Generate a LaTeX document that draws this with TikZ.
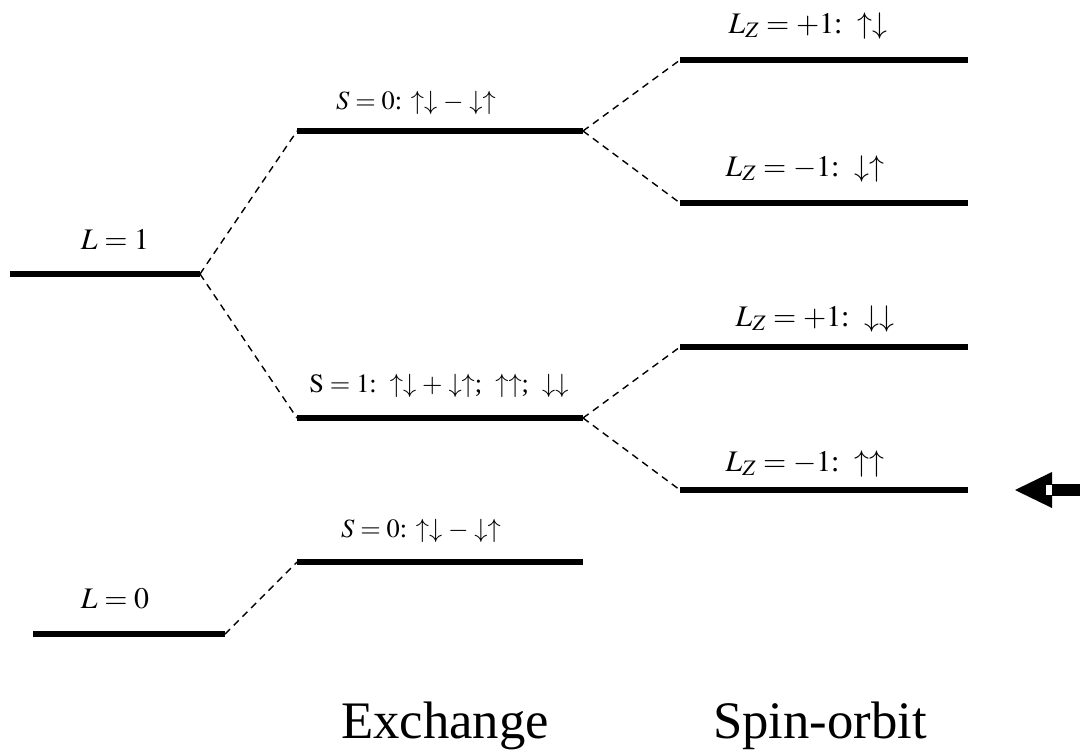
\documentclass[tikz,border=0pt]{standalone}
\usepackage{mathptmx}
\usepackage[no-math]{fontspec}
\setmainfont{Liberation Serif}
\begin{document}
\begin{tikzpicture}[x=0.02cm,y=-0.02cm,
  level/.style={line width=3.4pt},
  conn/.style={line width=0.8pt,dash pattern=on 4pt off 3pt},
  lab/.style={font=\fontsize{17}{19}\selectfont,inner sep=0pt},
  slab/.style={font=\fontsize{15}{17}\selectfont,inner sep=0pt},
  big/.style={font=\fontsize{30}{34}\selectfont,inner sep=0pt}]
\useasboundingbox (0,0) rectangle (1080,751);
% coordinates of levels
\coordinate (L1a) at (10,274);   \coordinate (L1b) at (200,274);
\coordinate (L0a) at (33,634);   \coordinate (L0b) at (225,634);
\coordinate (S0ua) at (297,131); \coordinate (S0ub) at (583,131);
\coordinate (S1a) at (297,418);  \coordinate (S1b) at (583,418);
\coordinate (S0la) at (297,562); \coordinate (S0lb) at (583,562);
\coordinate (Z1a) at (680,60);   \coordinate (Z1b) at (968,60);
\coordinate (Z2a) at (680,203);  \coordinate (Z2b) at (968,203);
\coordinate (Z3a) at (680,347);  \coordinate (Z3b) at (968,347);
\coordinate (Z4a) at (680,490);  \coordinate (Z4b) at (968,490);
% levels
\foreach \n in {L1,L0,S0u,S1,S0l,Z1,Z2,Z3,Z4} \draw[level] (\n a) -- (\n b);
% connectors
\draw[conn] (L1b) -- (S0ua);
\draw[conn] (L1b) -- (S1a);
\draw[conn] (L0b) -- (S0la);
\draw[conn] (S0ub) -- (Z1a);
\draw[conn] (S0ub) -- (Z2a);
\draw[conn] (S1b) -- (Z3a);
\draw[conn] (S1b) -- (Z4a);
% labels
\node[lab] (tL1) at (115,240) {$L=1$};
\node[lab] (tL0) at (115,599) {$L=0$};
\node[slab] (tS0u) at (416,103) {$S=0$: $\uparrow\downarrow-\downarrow\uparrow$};
\node[slab] (tS1) at (439,386) {$\mathrm{S}=1$:\ \ $\uparrow\downarrow+\downarrow\uparrow$;\ \ $\uparrow\uparrow$;\ \ $\downarrow\downarrow$};
\node[slab] (tS0l) at (421,531) {$S=0$: $\uparrow\downarrow-\downarrow\uparrow$};
\node[lab] (tZ1) at (808,26) {$L_Z=+1$:\ \ $\uparrow\downarrow$};
\node[lab] (tZ2) at (805,169) {$L_Z=-1$:\ \ $\downarrow\uparrow$};
\node[lab] (tZ3) at (815,319) {$L_Z=+1$:\ \ $\downarrow\downarrow$};
\node[lab] (tZ4) at (805,464) {$L_Z=-1$:\ \ $\uparrow\uparrow$};
\node[big] (ex) at (445,726) {Exchange};
\node[big] (so) at (820,726) {Spin-orbit};
% side arrow
\coordinate (tip) at (1015,490);
\fill (tip) -- (1052,472) -- (1052,508) -- cycle;
\fill[white] (1046,485) rectangle (1052,495);
\fill (1052,484) rectangle (1080,496);
\end{tikzpicture}
\end{document}
